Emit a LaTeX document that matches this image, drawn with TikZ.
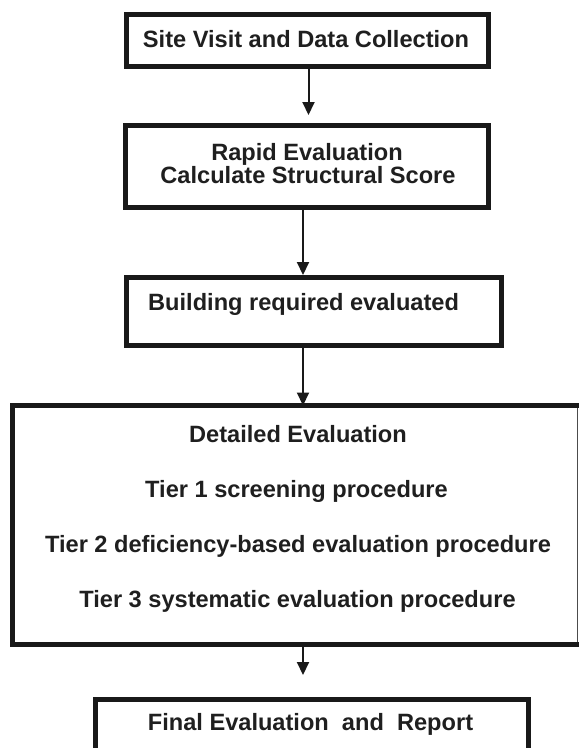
\documentclass[tikz,border=0pt]{standalone}
\usepackage{fontspec}
\setmainfont{Liberation Sans}
\usetikzlibrary{arrows.meta}

\tikzset{
  box/.style={rectangle, draw=black!90, line width=5pt, outer sep=2.5pt, inner sep=0pt, fill=white},
  txt/.style={font=\fontsize{23.6}{23.6}\selectfont\bfseries, text=black!88, inner sep=0pt},
  flow/.style={draw=black!90, line width=2pt, -{Triangle[width=12pt,length=13pt]}},
}

\begin{document}
\begin{tikzpicture}[x=1pt, y=-1pt]
  \useasboundingbox (0,0) rectangle (579,748);
  \clip (0,0) rectangle (579,748);

  % step boxes
  \node[box, minimum width=362pt, minimum height=52pt] (b1) at (307,40) {};
  \node[box, minimum width=363pt, minimum height=82pt] (b2) at (306.5,166) {};
  \node[box, minimum width=375.5pt, minimum height=68pt] (b3) at (313.75,311.5) {};
  \node[rectangle, inner sep=0pt, outer sep=2.5pt, minimum width=562.5pt, minimum height=234pt] (b4) at (296.25,525) {};
  \node[box, minimum width=433pt, minimum height=91pt] (b5) at (311.5,744.5) {};

  % detailed-evaluation box: heavy left/top/bottom, hairline right side
  \draw[draw=black!90, line width=5pt, line join=miter]
    ([xshift=2.5pt]b4.north east) -- (b4.north west) -- (b4.south west) -- ([xshift=2.5pt]b4.south east);
  \draw[draw=black!70, line width=1pt] ([xshift=-2.5pt,yshift=-2.5pt]b4.north east) -- ([xshift=-2.5pt,yshift=2.5pt]b4.south east);

  % labels
  \node[txt, anchor=base] (t1) at (306,47) {Site Visit and Data Collection};
  \node[txt, anchor=base] (t2a) at (307,160) {Rapid Evaluation};
  \node[txt, anchor=base] (t2b) at (308,183) {Calculate Structural Score};
  \node[txt, anchor=base west] (t3) at (148,310) {Building required evaluated};
  \node[txt, anchor=base] (t4a) at (298,442) {Detailed Evaluation};
  \node[txt, anchor=base] (t4b) at (296.5,497) {Tier 1 screening procedure};
  \node[txt, anchor=base] (t4c) at (298,552) {Tier 2 deficiency-based evaluation procedure};
  \node[txt, anchor=base] (t4d) at (297.5,607) {Tier 3 systematic evaluation procedure};
  \node[txt, anchor=base] (t5) at (310.5,730) {Final Evaluation\ \ and\ \ Report};

  % connectors
  \draw[flow, shorten >=7.5pt] ([xshift=1.5pt]b1.south) -- ([xshift=2pt]b2.north);
  \draw[flow] ([xshift=-3.5pt]b2.south) -- ([xshift=-10.75pt]b3.north);
  \draw[flow] ([xshift=-10.75pt]b3.south) -- ([xshift=6.75pt]b4.north);
  \draw[flow, shorten >=21.5pt] ([xshift=6.75pt]b4.south) -- ([xshift=-8.5pt]b5.north);
\end{tikzpicture}
\end{document}
